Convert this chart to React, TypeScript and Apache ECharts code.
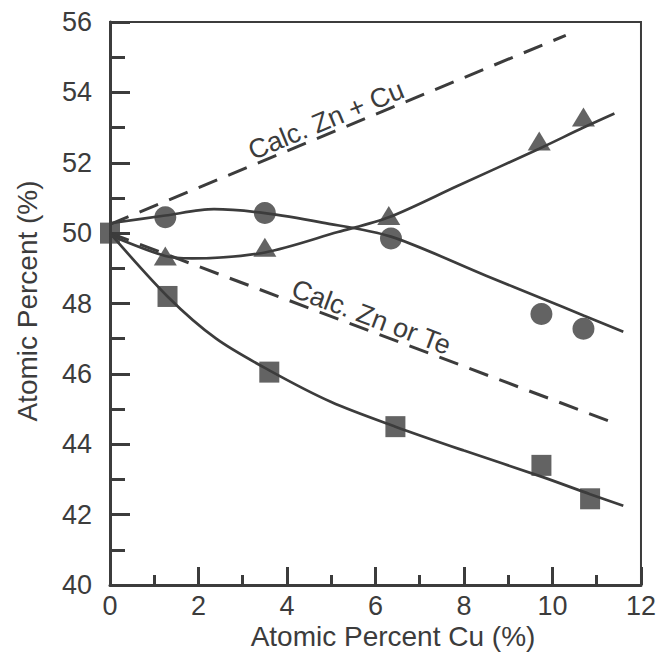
import React, { useEffect, useRef } from "react";
import * as echarts from "echarts";

// Measured points
const squareX = [0, 1.3, 3.6, 6.45, 9.75, 10.85];
const squareY = [50.0, 48.2, 46.05, 44.5, 43.4, 42.45];
const circleX = [1.25, 3.5, 6.35, 9.75, 10.7];
const circleY = [50.45, 50.57, 49.85, 47.7, 47.28];
const triangleX = [1.25, 3.5, 6.3, 9.7, 10.7];
const triangleY = [49.35, 49.6, 50.5, 52.62, 53.3];

// Fitted curves
const squareFitX = [0, 1.3, 2.4, 3.6, 5.0, 6.45, 8.0, 9.75, 10.85, 11.6];
const squareFitY = [50.0, 48.2, 47.0, 46.1, 45.2, 44.5, 43.82, 43.08, 42.58, 42.25];
const circleFitX = [0, 1.25, 2.35, 3.5, 4.8, 6.35, 8.5, 9.75, 10.7, 11.6];
const circleFitY = [50.28, 50.5, 50.68, 50.57, 50.3, 49.9, 48.79, 48.15, 47.66, 47.2];
const triangleFitX = [0, 1.25, 1.85, 3.5, 5.15, 6.3, 7.85, 9.7, 10.7, 11.4];
const triangleFitY = [49.94, 49.35, 49.28, 49.45, 50.03, 50.45, 51.34, 52.4, 53.0, 53.4];

// Calculated lines
const calcZnCuX = [0, 10.3];
const calcZnCuY = [50.25, 55.62];
const calcZnTeX = [0, 11.3];
const calcZnTeY = [50.0, 44.65];

const calcZnCuLabel = "Calc. Zn + Cu";
const calcZnTeLabel = "Calc. Zn or Te";
const calcZnCuLabelX = 5.0;
const calcZnTeLabelX = 5.8;

const xTitle = "Atomic Percent Cu (%)";
const yTitle = "Atomic Percent (%)";

const INK = "#3c3c3c";
const FONT = '"Liberation Sans", Arial, Helvetica, sans-serif';

const zip = (xs: number[], ys: number[]) => xs.map((x, i) => [x, ys[i]]);
const interp = (xs: number[], ys: number[], x: number) =>
  ys[0] + ((ys[1] - ys[0]) * (x - xs[0])) / (xs[1] - xs[0]);

export default function App() {
  const ref = useRef<HTMLDivElement>(null);
  useEffect(() => {
    if (!ref.current) return;
    const chart = echarts.init(ref.current, null, { renderer: "svg" });
    const lineCommon = {
      type: "line" as const,
      showSymbol: false,
      symbol: "none",
      silent: true,
    };
    chart.setOption({
      animation: false,
      backgroundColor: "#ffffff",
      grid: {
        left: 110,
        right: 14,
        top: 22,
        bottom: 67,
        show: true,
        borderColor: INK,
        borderWidth: 2,
        containLabel: false,
      },
      xAxis: {
        type: "value",
        min: 0,
        max: 12,
        interval: 2,
        axisLine: { show: true, lineStyle: { color: INK, width: 3 } },
        axisTick: { show: true, inside: true, length: 18, lineStyle: { color: INK, width: 3 } },
        minorTick: { show: true, splitNumber: 2, length: 10, lineStyle: { color: INK, width: 3 } },
        splitLine: { show: false },
        minorSplitLine: { show: false },
        axisLabel: { fontSize: 27, color: INK, fontFamily: FONT, margin: 7 },
      },
      yAxis: {
        type: "value",
        min: 40,
        max: 56,
        interval: 2,
        axisLine: { show: true, lineStyle: { color: INK, width: 3 } },
        axisTick: { show: true, inside: true, length: 20, lineStyle: { color: INK, width: 3 } },
        minorTick: { show: true, splitNumber: 2, length: 15, lineStyle: { color: INK, width: 3 } },
        splitLine: { show: false },
        minorSplitLine: { show: false },
        axisLabel: { fontSize: 27, color: INK, fontFamily: FONT, margin: 18 },
      },
      series: [
        {
          ...lineCommon,
          name: "Calc. Zn + Cu",
          data: zip(calcZnCuX, calcZnCuY),
          lineStyle: { color: INK, width: 3, type: [20, 12] },
        },
        {
          ...lineCommon,
          name: "Calc. Zn or Te",
          data: zip(calcZnTeX, calcZnTeY),
          lineStyle: { color: INK, width: 3, type: [20, 12] },
        },
        {
          ...lineCommon,
          name: "square fit",
          smooth: 0.3,
          data: zip(squareFitX, squareFitY),
          lineStyle: { color: INK, width: 2.7 },
        },
        {
          ...lineCommon,
          name: "circle fit",
          smooth: 0.3,
          data: zip(circleFitX, circleFitY),
          lineStyle: { color: INK, width: 2.7 },
        },
        {
          ...lineCommon,
          name: "triangle fit",
          smooth: 0.3,
          data: zip(triangleFitX, triangleFitY),
          lineStyle: { color: INK, width: 2.7 },
        },
        {
          type: "scatter",
          name: "circles",
          symbol: "circle",
          symbolSize: 22,
          data: zip(circleX, circleY),
          itemStyle: { color: INK },
          z: 5,
        },
        {
          type: "scatter",
          name: "triangles",
          symbol: "triangle",
          symbolSize: [23, 19],
          data: zip(triangleX, triangleY),
          itemStyle: { color: INK },
          z: 5,
        },
        {
          type: "scatter",
          name: "squares",
          symbol: "rect",
          symbolSize: [20, 21],
          data: zip(squareX, squareY),
          itemStyle: { color: INK },
          z: 6,
        },
      ],
    });

    const px = (x: number, y: number) =>
      chart.convertToPixel({ gridIndex: 0 }, [x, y]) as number[];
    const angleOf = (xs: number[], ys: number[]) => {
      const a = px(xs[0], ys[0]);
      const b = px(xs[1], ys[1]);
      return Math.atan2(-(b[1] - a[1]), b[0] - a[0]);
    };
    const p1 = px(calcZnCuLabelX, interp(calcZnCuX, calcZnCuY, calcZnCuLabelX));
    const p2 = px(calcZnTeLabelX, interp(calcZnTeX, calcZnTeY, calcZnTeLabelX));

    chart.setOption({
      graphic: [
        {
          type: "text",
          x: p1[0],
          y: p1[1],
          rotation: angleOf(calcZnCuX, calcZnCuY),
          style: {
            text: calcZnCuLabel,
            font: `27px ${FONT}`,
            fill: INK,
            align: "center",
            verticalAlign: "bottom",
          },
          z: 10,
        },
        {
          type: "text",
          x: p2[0],
          y: p2[1],
          rotation: angleOf(calcZnTeX, calcZnTeY),
          style: {
            text: calcZnTeLabel,
            font: `27px ${FONT}`,
            fill: INK,
            align: "center",
            verticalAlign: "bottom",
          },
          z: 10,
        },
        {
          type: "text",
          x: 393,
          y: 636,
          style: {
            text: xTitle,
            font: `28px ${FONT}`,
            fill: INK,
            align: "center",
            verticalAlign: "middle",
          },
        },
        {
          type: "text",
          x: 27,
          y: 301,
          rotation: Math.PI / 2,
          style: {
            text: yTitle,
            font: `28px ${FONT}`,
            fill: INK,
            align: "center",
            verticalAlign: "middle",
          },
        },
      ],
    });

    return () => chart.dispose();
  }, []);
  return (
    <div
      ref={ref}
      style={{ position: "absolute", left: 0, top: 0, width: 659, height: 652, background: "#fff" }}
    />
  );
}
